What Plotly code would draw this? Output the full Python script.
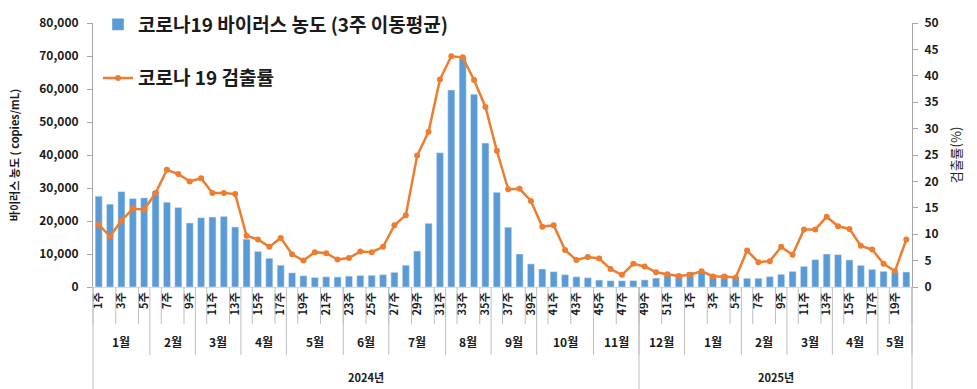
import plotly.graph_objects as go

# ---------------- data ----------------
week_numbers = list(range(1, 53)) + list(range(1, 21))   # 2024 W1..52, 2025 W1..20
week_labels = [f"{w}주" for w in week_numbers]

month_labels = ["1월", "2월", "3월", "4월", "5월", "6월", "7월", "8월", "9월", "10월", "11월",
                "12월", "1월", "2월", "3월", "4월", "5월"]
month_weeks = [5, 4, 4, 4, 5, 4, 5, 4, 4, 5, 4, 4, 5, 4, 4, 4, 3]

year_labels = ["2024년", "2025년"]
year_weeks = [48, 24]

concentration = [
    27500, 25100, 28900, 26800, 27000, 29000, 25700, 24100, 19400, 21000,
    21200, 21400, 18200, 14500, 10800, 8700, 6600, 4300, 3400, 2900,
    3100, 3050, 3300, 3500, 3550, 3750, 4450, 6600, 10900, 19300,
    40700, 59700, 69900, 58400, 43600, 28700, 18100, 10000, 7000, 5450,
    4650, 3750, 3100, 2800, 2100, 1900, 1900, 1950, 2150, 2700,
    3600, 3850, 4550, 4450, 3750, 3650, 2850, 2650, 2650, 3150,
    3850, 4750, 6250, 8300, 10000, 9800, 8200, 6550, 5350, 4750,
    4450, 4550,
]

detection = [
    11.8, 9.6, 12.6, 14.8, 14.7, 17.8, 22.2, 21.4, 20.0, 20.6,
    17.8, 17.8, 17.6, 9.7, 9.0, 7.6, 9.3, 6.2, 5.0, 6.6,
    6.4, 5.2, 5.5, 6.7, 6.6, 7.6, 11.7, 13.6, 24.9, 29.4,
    39.3, 43.7, 43.5, 39.2, 34.1, 25.8, 18.5, 18.6, 16.3, 11.4,
    11.7, 7.0, 5.1, 5.7, 5.4, 3.4, 2.3, 4.4, 3.9, 2.8,
    2.4, 2.1, 2.3, 3.0, 2.0, 2.0, 1.8, 6.9, 4.7, 4.9,
    7.6, 6.1, 10.9, 10.9, 13.3, 11.5, 11.0, 7.8, 7.1, 4.4,
    3.0, 9.0,
]

bar_name = "코로나19 바이러스 농도 (3주 이동평균)"
line_name = "코로나 19 검출률"

# ---------------- figure ----------------
FONT = "Noto Sans CJK KR, Liberation Sans, sans-serif"
TXT = "#1a1a1a"
GRID = "#BFBFBF"

n = len(concentration)
xs = list(range(1, n + 1))

fig = go.Figure()
fig.add_trace(go.Bar(
    x=xs, y=concentration, name=bar_name, marker_color="#5B9BD5",
    width=0.62, yaxis="y", legendgroup="a",
))
fig.add_trace(go.Scatter(
    x=xs, y=detection, name=line_name, mode="lines+markers",
    line=dict(color="#ED7D31", width=2.5), marker=dict(color="#ED7D31", size=6),
    yaxis="y2", legendgroup="b",
))

W, H = 977, 389
ml, mr, mt, mb = 93, 65, 23, 102
plot_w = W - ml - mr
plot_h = H - mt - mb


def py(pixel_y):
    """convert pixel y (from top of page) to paper coordinate"""
    return (H - mb - pixel_y) / plot_h


def px(pixel_x):
    return (pixel_x - ml) / plot_w


shapes = []
# week tick separators, every 2 weeks
for k in range(0, n + 1, 2):
    shapes.append(dict(type="line", xref="paper", yref="paper",
                       x0=k / n, x1=k / n, y0=0, y1=py(324),
                       line=dict(color=GRID, width=1)))
# month separators + labels
annotations = []
cum = 0
for lab, w in zip(month_labels, month_weeks):
    start = cum
    cum += w
    shapes.append(dict(type="line", xref="paper", yref="paper",
                       x0=cum / n, x1=cum / n, y0=0, y1=py(355),
                       line=dict(color=GRID, width=1)))
    annotations.append(dict(text=f"<b>{lab}</b>", xref="paper", yref="paper",
                            x=(start + cum) / 2 / n, y=py(341), showarrow=False,
                            xanchor="center", yanchor="middle",
                            font=dict(size=12, color=TXT, family=FONT)))
# year separators + labels
cum = 0
shapes.append(dict(type="line", xref="paper", yref="paper", x0=0, x1=0,
                   y0=0, y1=py(389), line=dict(color=GRID, width=1)))
for lab, w in zip(year_labels, year_weeks):
    start = cum
    cum += w
    shapes.append(dict(type="line", xref="paper", yref="paper",
                       x0=cum / n, x1=cum / n, y0=0, y1=py(389),
                       line=dict(color=GRID, width=1)))
    annotations.append(dict(text=f"<b>{lab}</b>", xref="paper", yref="paper",
                            x=(start + cum) / 2 / n, y=py(377), showarrow=False,
                            xanchor="center", yanchor="middle",
                            font=dict(size=11, color=TXT, family=FONT)))

fig.update_layout(
    width=W, height=H,
    margin=dict(l=ml, r=mr, t=mt, b=mb, pad=0, autoexpand=False),
    paper_bgcolor="white", plot_bgcolor="white",
    font=dict(family=FONT, color=TXT),
    showlegend=True,
    legend=dict(
        x=px(98), y=py(5.5), xanchor="left", yanchor="top",
        bgcolor="rgba(0,0,0,0)", traceorder="grouped", tracegroupgap=26,
        font=dict(size=19, color=TXT, family=FONT, weight="bold"),
        itemwidth=30,
    ),
    xaxis=dict(
        range=[0.5, n + 0.5], tickmode="array",
        tickvals=xs[::2], ticktext=week_labels[::2], tickangle=-90,
        tickfont=dict(size=11, color=TXT, family=FONT, weight="bold"),
        ticks="", showgrid=False, zeroline=False,
        showline=True, linecolor="#D9D9D9", linewidth=1, automargin=False,
    ),
    yaxis=dict(
        range=[0, 80000], tickmode="linear", tick0=0, dtick=10000,
        tickformat=",", ticks="outside", ticklen=5, tickcolor="#A6A6A6",
        showline=True, linecolor="#A6A6A6", linewidth=1,
        showgrid=False, zeroline=False, automargin=False,
        tickfont=dict(size=12, color=TXT, family=FONT, weight="bold"),
        ticklabelstandoff=6,
        title=dict(text="바이러스 농도 ( copies/mL)", standoff=17,
                   font=dict(size=11, color=TXT, family=FONT, weight="bold")),
    ),
    yaxis2=dict(
        overlaying="y", side="right", anchor="x",
        range=[0, 50], tickmode="linear", tick0=0, dtick=5,
        ticks="outside", ticklen=5, tickcolor="#A6A6A6",
        showline=True, linecolor="#A6A6A6", linewidth=1,
        showgrid=False, zeroline=False, automargin=False,
        tickfont=dict(size=12, color=TXT, family=FONT, weight="bold"),
        ticklabelstandoff=4,
        title=dict(text="검출률(%)", standoff=14,
                   font=dict(size=13, color=TXT, family=FONT)),
    ),
    shapes=shapes,
    annotations=annotations,
)

fig.write_html("out.html", config={"displayModeBar": False},
               post_script="document.body.style.margin='0px';")
